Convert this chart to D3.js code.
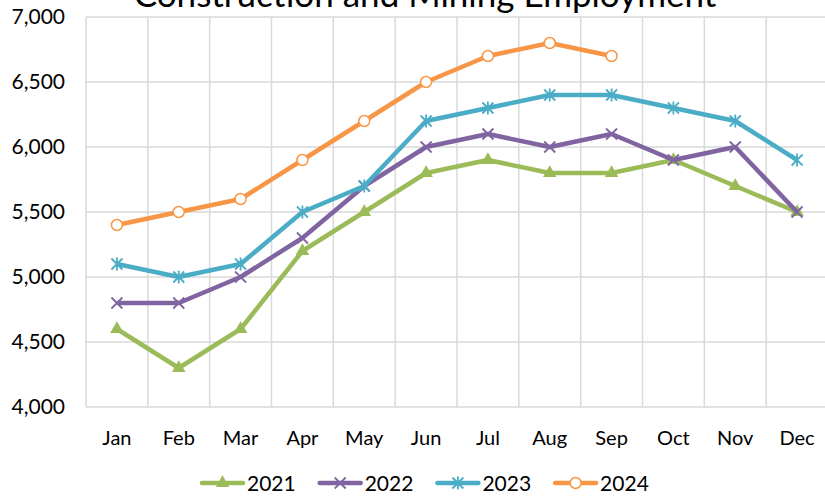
<!DOCTYPE html>
<html>
<head>
<meta charset="utf-8">
<script src="https://cdn.jsdelivr.net/npm/d3@7"></script>
<style>
  body { margin: 0; background: #fff; overflow: hidden; }
  text { font-family: Lato, "Open Sans", sans-serif; fill: #000; }
</style>
</head>
<body>
<script>
// chart values
const months = ['Jan','Feb','Mar','Apr','May','Jun','Jul','Aug','Sep','Oct','Nov','Dec'];
const years = ['2021','2022','2023','2024'];
const v2021 = [4600, 4300, 4600, 5200, 5500, 5800, 5900, 5800, 5800, 5900, 5700, 5500];
const v2022 = [4800, 4800, 5000, 5300, 5700, 6000, 6100, 6000, 6100, 5900, 6000, 5500];
const v2023 = [5100, 5000, 5100, 5500, 5700, 6200, 6300, 6400, 6400, 6300, 6200, 5900];
const v2024 = [5400, 5500, 5600, 5900, 6200, 6500, 6700, 6800, 6700];
const yTicks = [4000, 4500, 5000, 5500, 6000, 6500, 7000];
const colors = ['#9bbb59', '#8064a2', '#4bacc6', '#f79646'];
const markers = ['triangle', 'x', 'star', 'circle'];

const W = 825, H = 498;
const plotL = 86, plotT = 17, plotB = 407, plotR = 828;

const svg = d3.select('body').append('svg')
    .attr('width', W).attr('height', H);

const x = d3.scaleBand().domain(months).range([plotL, plotR]);
const y = d3.scaleLinear().domain([4000, 7000]).range([plotB, plotT]);

// gridlines
const grid = svg.append('g');
grid.selectAll('.hg').data(yTicks).enter().append('line')
    .attr('x1', plotL).attr('x2', plotR)
    .attr('y1', d => y(d)).attr('y2', d => y(d))
    .attr('stroke', '#d9d9d9').attr('stroke-width', 1.5);
grid.selectAll('.vg').data(months.concat(['end'])).enter().append('line')
    .attr('x1', (d, i) => plotL + i * x.step()).attr('x2', (d, i) => plotL + i * x.step())
    .attr('y1', plotT).attr('y2', plotB)
    .attr('stroke', '#d9d9d9').attr('stroke-width', 1.5);

// axes labels
svg.selectAll('.ylab').data(yTicks).enter().append('text')
    .attr('x', 65).attr('y', d => y(d) + 7)
    .attr('text-anchor', 'end')
    .style('font-size', '21px')
    .text(d => d3.format(',')(d));

svg.selectAll('.xlab').data(months).enter().append('text')
    .attr('x', d => x(d) + x.bandwidth() / 2).attr('y', 445)
    .attr('text-anchor', 'middle')
    .style('font-size', '20px')
    .text(d => d);

// title (cut off at top, as in the source)
svg.append('text')
    .attr('x', 425).attr('y', 7)
    .attr('text-anchor', 'middle')
    .style('font-size', '35px')
    .text('Construction and Mining Employment');

function drawMarker(g, type, color) {
  if (type === 'triangle') {
    g.append('path').attr('d', d3.symbol(d3.symbolTriangle, 80)()).attr('fill', color);
  } else if (type === 'x') {
    g.append('path').attr('d', 'M-5.5,-5.5L5.5,5.5M-5.5,5.5L5.5,-5.5')
        .attr('stroke', color).attr('stroke-width', 1.8).attr('fill', 'none');
  } else if (type === 'star') {
    g.append('path').attr('d', 'M-5.5,-5.5L5.5,5.5M-5.5,5.5L5.5,-5.5M0,-6.5L0,6.5')
        .attr('stroke', color).attr('stroke-width', 1.8).attr('fill', 'none');
  } else {
    g.append('circle').attr('r', 5.5).attr('fill', '#fff')
        .attr('stroke', color).attr('stroke-width', 1.5);
  }
}

const series = [v2021, v2022, v2023, v2024];
const line = d3.line()
    .x((d, i) => x(months[i]) + x.bandwidth() / 2)
    .y(d => y(d));

series.forEach((vals, s) => {
  svg.append('path').datum(vals)
      .attr('d', line)
      .attr('fill', 'none')
      .attr('stroke', colors[s])
      .attr('stroke-width', 4.5)
      .attr('stroke-linejoin', 'round');
  vals.forEach((v, i) => {
    const g = svg.append('g')
        .attr('transform', `translate(${x(months[i]) + x.bandwidth() / 2},${y(v)})`);
    drawMarker(g, markers[s], colors[s]);
  });
});

// legend
const legend = svg.append('g');
years.forEach((yr, s) => {
  const lx = 202 + s * 117.7, ly = 483;
  legend.append('line')
      .attr('x1', lx).attr('x2', lx + 41)
      .attr('y1', ly).attr('y2', ly)
      .attr('stroke', colors[s]).attr('stroke-width', 4.5)
      .attr('stroke-linecap', 'round');
  const g = legend.append('g').attr('transform', `translate(${lx + 20.5},${ly})`);
  drawMarker(g, markers[s], colors[s]);
  legend.append('text')
      .attr('x', lx + 45).attr('y', ly + 8)
      .style('font-size', '21px')
      .text(yr);
});
</script>
</body>
</html>
